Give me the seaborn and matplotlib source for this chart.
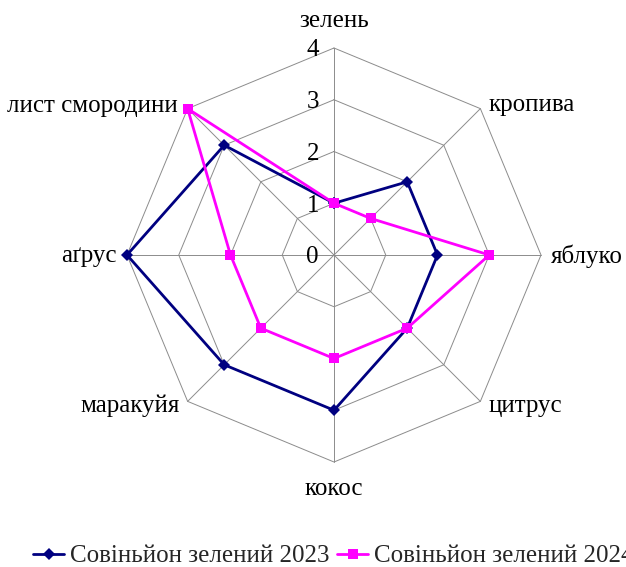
import numpy as np
import pandas as pd
import matplotlib
matplotlib.use("Agg")
import matplotlib.pyplot as plt
from matplotlib.lines import Line2D
import seaborn as sns

# Aroma profile of two vintages
categories = ["зелень", "кропива", "яблуко", "цитрус", "кокос", "маракуйя", "аґрус", "лист смородини"]
values_2023 = [1, 2, 2, 2, 3, 3, 4, 3]
values_2024 = [1, 1, 3, 2, 2, 2, 2, 4]
series_names = ["Совіньйон зелений 2023", "Совіньйон зелений 2024"]
tick_values = [0, 1, 2, 3, 4]
tick_labels = ["0", "1", "2", "3", "4"]

sns.set_theme(style="white")
plt.rcParams["font.family"] = ["Liberation Serif", "DejaVu Serif"]

n = len(categories)
angles = np.arange(n) * 2 * np.pi / n
r_max = max(tick_values)


def to_xy(r):
    r = np.asarray(r, dtype=float)
    return r * np.sin(angles), r * np.cos(angles)


# long-form table of closed polygons
rows = []
for name, vals in zip(series_names, [values_2023, values_2024]):
    xs, ys = to_xy(vals)
    for i in range(n + 1):
        rows.append({"series": name, "x": xs[i % n], "y": ys[i % n], "order": i})
df = pd.DataFrame(rows)

W, H = 626, 567
fig = plt.figure(figsize=(W / 100, H / 100), dpi=100)
ax = fig.add_axes([0, 0, 1, 1])
scale = 51.75          # pixels per unit
cx, cy = 334, 255      # centre in pixels
ax.set_xlim(-cx / scale, (W - cx) / scale)
ax.set_ylim(-(H - cy) / scale, cy / scale)
ax.axis("off")
px = 1 / scale
FS = 18

grid_kw = dict(color="#8c8c8c", lw=0.7, zorder=1)
# octagonal rings
for r in tick_values[1:]:
    gx, gy = to_xy([r] * n)
    ax.plot(np.append(gx, gx[0]), np.append(gy, gy[0]), **grid_kw)
# spokes
ox, oy = to_xy([r_max] * n)
for x_end, y_end in zip(ox, oy):
    ax.plot([0, x_end], [0, y_end], **grid_kw)

colors = {series_names[0]: "#000080", series_names[1]: "#ff00ff"}
markers = {series_names[0]: "D", series_names[1]: "s"}
sizes = {series_names[0]: 6, series_names[1]: 7.5}

for name in series_names:
    sub = df[df["series"] == name]
    sns.lineplot(data=sub, x="x", y="y", sort=False, estimator=None, ax=ax,
                 color=colors[name], lw=2.0, marker=markers[name],
                 markersize=sizes[name], markeredgewidth=0,
                 legend=False, zorder=3)

# radial tick labels
for v, lab in zip(tick_values, tick_labels):
    ax.text(-15 * px, v - 8.5 * px, lab, ha="right", va="baseline",
            fontsize=FS, color="black")

# category labels: (dx, dy) offsets in pixels from the outer vertex, baseline aligned
label_pos = [
    (0, 21, "center"),
    (8, -2, "left"),
    (10, -8, "left"),
    (8, -11, "left"),
    (0, -33, "center"),
    (-8, -11, "right"),
    (-10, -7, "right"),
    (-10, -3, "right"),
]
for cat, vx, vy, (dx, dy, ha) in zip(categories, ox, oy, label_pos):
    ax.text(vx + dx * px, vy + dy * px, cat, ha=ha, va="baseline",
            fontsize=FS, color="black")

handles = [Line2D([], [], color=colors[s], lw=2.0, marker=markers[s],
                  markersize=sizes[s], markeredgewidth=0) for s in series_names]
fig.legend(handles, series_names, loc="center left",
           bbox_to_anchor=(33 / W, 1 - 556 / H), ncol=2, frameon=False,
           fontsize=FS, handlelength=1.24, handletextpad=0.24,
           columnspacing=0.3, borderpad=0, borderaxespad=0)

fig.savefig("out.png", dpi=100)
